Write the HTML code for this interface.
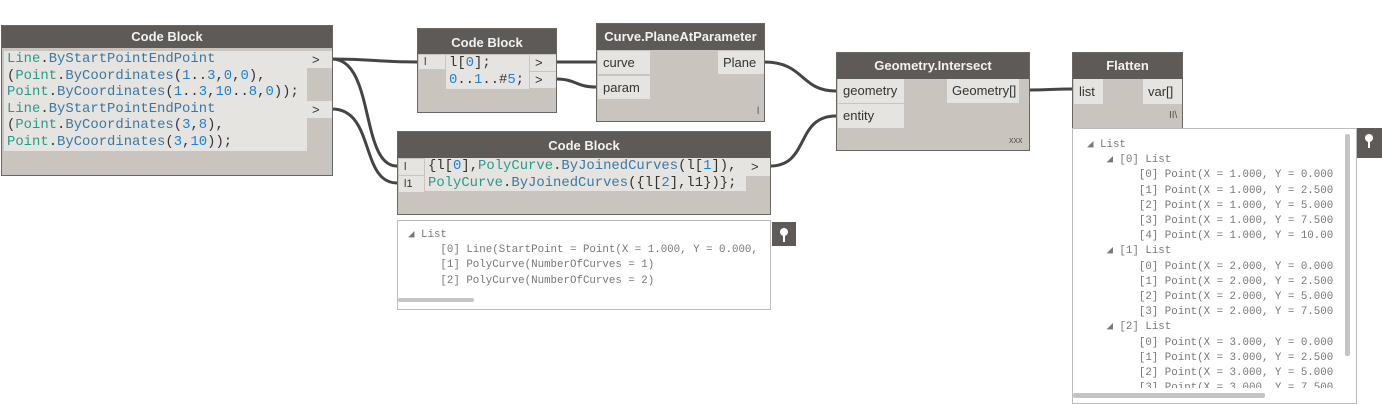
<!DOCTYPE html>
<html><head><meta charset="utf-8"><style>
body{margin:0;width:1382px;height:404px;background:#fff;position:relative;overflow:hidden;font-family:"Liberation Sans",sans-serif}
.n{position:absolute;background:#c9c5be;border:1px solid #6a6762;box-sizing:border-box}
.h{position:absolute;left:0;right:0;top:0;background:#5d5a57;color:#f2f2f2;font-weight:bold;font-size:13px;text-align:center}
.b{position:absolute;background:#e6e4e0}
.p{position:absolute;background:#e6e4e0;font-size:13px;color:#333;box-sizing:border-box;padding-left:5px}
.code{position:absolute;background:#e6e4e0;font-family:"Liberation Mono",monospace;font-size:13.9px;line-height:16.6px;color:#333;white-space:pre;padding-left:3px;box-sizing:border-box}
.t{color:#2a9a8a}.f{color:#3a78a2}.num{color:#1e7fd8}
.pv{position:absolute;border:1px solid #bbb;background:#fff;font-family:"Liberation Mono",monospace;font-size:10.8px;color:#777;white-space:pre;line-height:15.2px;overflow:hidden;box-sizing:border-box}
.pin{position:absolute;background:#5d5a57}
.pin:before{content:"";position:absolute;left:8px;top:6px;width:8px;height:8px;border-radius:50%;background:#fff}
.pin:after{content:"";position:absolute;left:11px;top:12px;width:2px;height:8px;background:#fff}
.sm{position:absolute;font-size:10px;color:#555}
</style></head><body>
<svg width="1382" height="404" style="position:absolute;left:0;top:0" fill="none" stroke="#444" stroke-width="3">
<path d="M332,59 C375,59 375,62 417,62"/>
<path d="M332,59 C375,59 360,166 397,166"/>
<path d="M332,109 C375,109 360,183 397,183"/>
<path d="M556,62 C576,62 576,62 596,62"/>
<path d="M556,79 C576,79 576,87 596,87"/>
<path d="M764,62 C805,62 800,91 836,91"/>
<path d="M770,166 C810,166 795,116 836,116"/>
<path d="M1029,90 C1050,90 1050,89 1072,89"/>
</svg>

<div class="n" style="left:1px;top:25px;width:332px;height:151px">
 <div class="h" style="height:22px;line-height:22px">Code Block</div>
 <div class="code" style="left:2px;top:25px;width:303px;height:100px"><span class="t">Line</span>.<span class="f">ByStartPointEndPoint</span>
(<span class="t">Point</span>.<span class="f">ByCoordinates</span>(<span class="num">1</span>..<span class="num">3</span>,<span class="num">0</span>,<span class="num">0</span>),
<span class="t">Point</span>.<span class="f">ByCoordinates</span>(<span class="num">1</span>..<span class="num">3</span>,<span class="num">10</span>..<span class="num">8</span>,<span class="num">0</span>));
<span class="t">Line</span>.<span class="f">ByStartPointEndPoint</span>
(<span class="t">Point</span>.<span class="f">ByCoordinates</span>(<span class="num">3</span>,<span class="num">8</span>),
<span class="t">Point</span>.<span class="f">ByCoordinates</span>(<span class="num">3</span>,<span class="num">10</span>));</div>
 <div class="p" style="left:305px;top:25px;width:25px;height:17px;line-height:17px">&gt;</div>
 <div class="p" style="left:305px;top:75px;width:25px;height:17px;line-height:17px">&gt;</div>
</div>

<div class="n" style="left:417px;top:28px;width:140px;height:85px">
 <div class="h" style="height:25px;line-height:27px">Code Block</div>
 <div class="p" style="left:1px;top:26px;width:26px;height:14px;line-height:14px;font-size:11px">l</div>
 <div class="code" style="left:28px;top:26px;width:83px;height:34px;line-height:17px"><span>l[</span><span class="num">0</span>];
<span class="num">0</span>..<span class="num">1</span>..#<span class="num">5</span>;</div>
 <div class="p" style="left:112px;top:26px;width:26px;height:16px;line-height:16px">&gt;</div>
 <div class="p" style="left:112px;top:43px;width:26px;height:16px;line-height:16px">&gt;</div>
</div>

<div class="n" style="left:596px;top:23px;width:169px;height:99px">
 <div class="h" style="height:26px;line-height:26px">Curve.PlaneAtParameter</div>
 <div class="p" style="left:1px;top:27px;width:52px;height:23px;line-height:23px">curve</div>
 <div class="p" style="left:1px;top:52px;width:52px;height:23px;line-height:23px">param</div>
 <div class="p" style="left:121px;top:27px;width:46px;height:23px;line-height:23px">Plane</div>
 <div class="sm" style="left:160px;top:82px">l</div>
</div>

<div class="n" style="left:397px;top:131px;width:374px;height:84px">
 <div class="h" style="height:26px;line-height:27px">Code Block</div>
 <div class="p" style="left:1px;top:27px;width:25px;height:16px;line-height:16px;font-size:11px">l</div>
 <div class="p" style="left:1px;top:44px;width:25px;height:16px;line-height:16px;font-size:11px">l1</div>
 <div class="code" style="left:27px;top:26px;width:321px;height:33px;line-height:16.6px">{l[<span class="num">0</span>],<span class="t">PolyCurve</span>.<span class="f">ByJoinedCurves</span>(l[<span class="num">1</span>]),
<span class="t">PolyCurve</span>.<span class="f">ByJoinedCurves</span>({l[<span class="num">2</span>],l1})};</div>
 <div class="p" style="left:348px;top:26px;width:24px;height:18px;line-height:18px">&gt;</div>
</div>
<div class="pv" style="left:397px;top:220px;width:374px;height:90px;padding:7px 0 0 10px">◢ List
     [0] Line(StartPoint = Point(X = 1.000, Y = 0.000,
     [1] PolyCurve(NumberOfCurves = 1)
     [2] PolyCurve(NumberOfCurves = 2)</div>
<div style="position:absolute;left:398px;top:298px;width:76px;height:4px;background:#c4c4c4;border-radius:2px"></div>
<div class="pin" style="left:772px;top:222px;width:24px;height:24px"></div>

<div class="n" style="left:836px;top:52px;width:194px;height:99px">
 <div class="h" style="height:26px;line-height:26px">Geometry.Intersect</div>
 <div class="p" style="left:1px;top:26px;width:66px;height:24px;line-height:24px">geometry</div>
 <div class="p" style="left:1px;top:51px;width:66px;height:24px;line-height:24px">entity</div>
 <div class="p" style="left:110px;top:26px;width:72px;height:24px;line-height:24px">Geometry[]</div>
 <div class="sm" style="left:172px;top:82px;font-size:9px">xxx</div>
</div>

<div class="n" style="left:1072px;top:52px;width:111px;height:78px">
 <div class="h" style="height:26px;line-height:26px">Flatten</div>
 <div class="p" style="left:1px;top:26px;width:29px;height:25px;line-height:25px">list</div>
 <div class="p" style="left:70px;top:26px;width:39px;height:25px;line-height:25px">var[]</div>
 <div class="sm" style="left:96px;top:57px">II\</div>
</div>
<div class="pv" style="left:1072px;top:128px;width:285px;height:276px;padding:9px 0 0 14px">◢ List
   ◢ [0] List
        [0] Point(X = 1.000, Y = 0.000
        [1] Point(X = 1.000, Y = 2.500
        [2] Point(X = 1.000, Y = 5.000
        [3] Point(X = 1.000, Y = 7.500
        [4] Point(X = 1.000, Y = 10.00
   ◢ [1] List
        [0] Point(X = 2.000, Y = 0.000
        [1] Point(X = 2.000, Y = 2.500
        [2] Point(X = 2.000, Y = 5.000
        [3] Point(X = 2.000, Y = 7.500
   ◢ [2] List
        [0] Point(X = 3.000, Y = 0.000
        [1] Point(X = 3.000, Y = 2.500
        [2] Point(X = 3.000, Y = 5.000
        [3] Point(X = 3.000, Y = 7.500</div>
<div style="position:absolute;left:1339px;top:129px;width:17px;height:274px;background:#fff"></div>
<div style="position:absolute;left:1345px;top:134px;width:5px;height:222px;background:#c4c4c4;border-radius:2px"></div>
<div style="position:absolute;left:1073px;top:388px;width:283px;height:15px;background:#fff"></div>
<div style="position:absolute;left:1073px;top:393px;width:192px;height:5px;background:#c4c4c4;border-radius:2px"></div>
<div class="pin" style="left:1357px;top:128px;width:25px;height:30px"></div>
</body></html>
